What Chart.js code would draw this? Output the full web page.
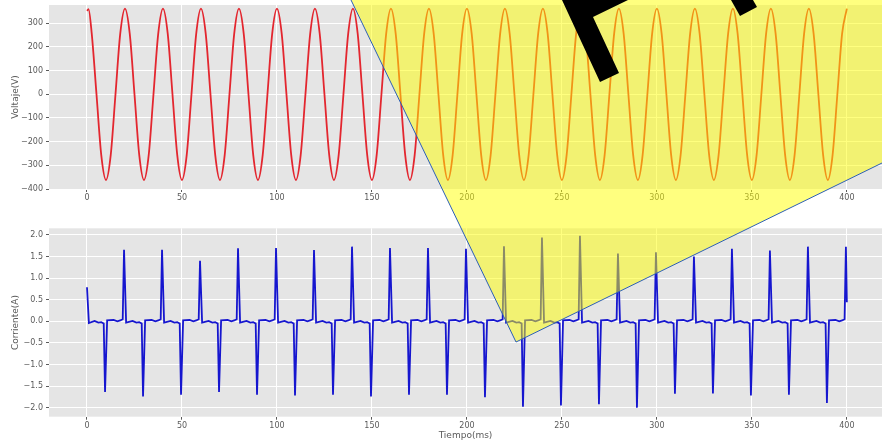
<!DOCTYPE html>
<html>
<head>
<meta charset="utf-8">
<script src="https://cdn.jsdelivr.net/npm/chart.js@4/dist/chart.umd.min.js"></script>
<style>
  html, body { margin: 0; padding: 0; background: #fff; overflow: hidden; }
  #wrap { position: relative; width: 882px; height: 445px; }
  canvas { position: absolute; left: 0; }
  #voltaje { top: 0; width: 882px; height: 215px; }
  #corriente { top: 215px; width: 882px; height: 230px; }
  #marca { top: 0; width: 882px; height: 445px; pointer-events: none; }
</style>
</head>
<body>
<div id="wrap">
  <canvas id="voltaje" width="882" height="215"></canvas>
  <canvas id="corriente" width="882" height="230"></canvas>
  <canvas id="marca" width="882" height="445"></canvas>
</div>
<script>
// Voltaje (V), muestras cada 2.5 ms
const tiempoV = [
  0, 0.8, 2.5, 5, 7.5, 10, 12.5, 15, 17.5,
  20, 22.5, 25, 27.5, 30, 32.5, 35, 37.5,
  40, 42.5, 45, 47.5, 50, 52.5, 55, 57.5,
  60, 62.5, 65, 67.5, 70, 72.5, 75, 77.5,
  80, 82.5, 85, 87.5, 90, 92.5, 95, 97.5,
  100, 102.5, 105, 107.5, 110, 112.5, 115, 117.5,
  120, 122.5, 125, 127.5, 130, 132.5, 135, 137.5,
  140, 142.5, 145, 147.5, 150, 152.5, 155, 157.5,
  160, 162.5, 165, 167.5, 170, 172.5, 175, 177.5,
  180, 182.5, 185, 187.5, 190, 192.5, 195, 197.5,
  200, 202.5, 205, 207.5, 210, 212.5, 215, 217.5,
  220, 222.5, 225, 227.5, 230, 232.5, 235, 237.5,
  240, 242.5, 245, 247.5, 250, 252.5, 255, 257.5,
  260, 262.5, 265, 267.5, 270, 272.5, 275, 277.5,
  280, 282.5, 285, 287.5, 290, 292.5, 295, 297.5,
  300, 302.5, 305, 307.5, 310, 312.5, 315, 317.5,
  320, 322.5, 325, 327.5, 330, 332.5, 335, 337.5,
  340, 342.5, 345, 347.5, 350, 352.5, 355, 357.5,
  360, 362.5, 365, 367.5, 370, 372.5, 375, 377.5,
  380, 382.5, 385, 387.5, 390, 392.5, 395, 397.5,
  400
];
const voltaje = [
  352, 360, 256, 0, -256, -362, -256, 0, 256,
  362, 256, 0, -256, -362, -256, 0, 256,
  362, 256, 0, -256, -362, -256, 0, 256,
  362, 256, 0, -256, -362, -256, 0, 256,
  362, 256, 0, -256, -362, -256, 0, 256,
  362, 256, 0, -256, -362, -256, 0, 256,
  362, 256, 0, -256, -362, -256, 0, 256,
  362, 256, 0, -256, -362, -256, 0, 256,
  362, 256, 0, -256, -362, -256, 0, 256,
  362, 256, 0, -256, -362, -256, 0, 256,
  362, 256, 0, -256, -362, -256, 0, 256,
  362, 256, 0, -256, -362, -256, 0, 256,
  362, 256, 0, -256, -362, -256, 0, 256,
  362, 256, 0, -256, -362, -256, 0, 256,
  362, 256, 0, -256, -362, -256, 0, 256,
  362, 256, 0, -256, -362, -256, 0, 256,
  362, 256, 0, -256, -362, -256, 0, 256,
  362, 256, 0, -256, -362, -256, 0, 256,
  362, 256, 0, -256, -362, -256, 0, 256,
  362, 256, 0, -256, -362, -256, 0, 256,
  362
];

// Corriente (A): picos negativos a ~9.5 ms y positivos a ~19.5 ms de cada ciclo
const tiempoI = [
  0, 1, 4, 6, 7.5, 8.8, 9.5, 10.6, 14, 16, 17.5, 18.8, 19.5,
  20.6, 24, 26, 27.5, 28.8, 29.5, 30.6, 34, 36, 37.5, 38.8, 39.5,
  40.6, 44, 46, 47.5, 48.8, 49.5, 50.6, 54, 56, 57.5, 58.8, 59.5,
  60.6, 64, 66, 67.5, 68.8, 69.5, 70.6, 74, 76, 77.5, 78.8, 79.5,
  80.6, 84, 86, 87.5, 88.8, 89.5, 90.6, 94, 96, 97.5, 98.8, 99.5,
  100.6, 104, 106, 107.5, 108.8, 109.5, 110.6, 114, 116, 117.5, 118.8, 119.5,
  120.6, 124, 126, 127.5, 128.8, 129.5, 130.6, 134, 136, 137.5, 138.8, 139.5,
  140.6, 144, 146, 147.5, 148.8, 149.5, 150.6, 154, 156, 157.5, 158.8, 159.5,
  160.6, 164, 166, 167.5, 168.8, 169.5, 170.6, 174, 176, 177.5, 178.8, 179.5,
  180.6, 184, 186, 187.5, 188.8, 189.5, 190.6, 194, 196, 197.5, 198.8, 199.5,
  200.6, 204, 206, 207.5, 208.8, 209.5, 210.6, 214, 216, 217.5, 218.8, 219.5,
  220.6, 224, 226, 227.5, 228.8, 229.5, 230.6, 234, 236, 237.5, 238.8, 239.5,
  240.6, 244, 246, 247.5, 248.8, 249.5, 250.6, 254, 256, 257.5, 258.8, 259.5,
  260.6, 264, 266, 267.5, 268.8, 269.5, 270.6, 274, 276, 277.5, 278.8, 279.5,
  280.6, 284, 286, 287.5, 288.8, 289.5, 290.6, 294, 296, 297.5, 298.8, 299.5,
  300.6, 304, 306, 307.5, 308.8, 309.5, 310.6, 314, 316, 317.5, 318.8, 319.5,
  320.6, 324, 326, 327.5, 328.8, 329.5, 330.6, 334, 336, 337.5, 338.8, 339.5,
  340.6, 344, 346, 347.5, 348.8, 349.5, 350.6, 354, 356, 357.5, 358.8, 359.5,
  360.6, 364, 366, 367.5, 368.8, 369.5, 370.6, 374, 376, 377.5, 378.8, 379.5,
  380.6, 384, 386, 387.5, 388.8, 389.5, 390.6, 394, 396, 397.5, 398.8, 399.5,
  400
];
const corriente = [
  0.79, -0.04, 0.01, -0.03, -0.02, -0.05, -1.64, 0.02, 0.03, 0.00, 0.02, 0.05, 1.66,
  -0.03, 0.01, -0.03, -0.02, -0.05, -1.74, 0.02, 0.03, 0.00, 0.02, 0.05, 1.66,
  -0.03, 0.01, -0.03, -0.02, -0.05, -1.70, 0.02, 0.03, 0.00, 0.02, 0.05, 1.40,
  -0.03, 0.01, -0.03, -0.02, -0.05, -1.64, 0.02, 0.03, 0.00, 0.02, 0.05, 1.69,
  -0.03, 0.01, -0.03, -0.02, -0.05, -1.70, 0.02, 0.03, 0.00, 0.02, 0.05, 1.70,
  -0.03, 0.01, -0.03, -0.02, -0.05, -1.72, 0.02, 0.03, 0.00, 0.02, 0.05, 1.65,
  -0.03, 0.01, -0.03, -0.02, -0.05, -1.70, 0.02, 0.03, 0.00, 0.02, 0.05, 1.73,
  -0.03, 0.01, -0.03, -0.02, -0.05, -1.74, 0.02, 0.03, 0.00, 0.02, 0.05, 1.70,
  -0.03, 0.01, -0.03, -0.02, -0.05, -1.70, 0.02, 0.03, 0.00, 0.02, 0.05, 1.70,
  -0.03, 0.01, -0.03, -0.02, -0.05, -1.70, 0.02, 0.03, 0.00, 0.02, 0.05, 1.68,
  -0.03, 0.01, -0.03, -0.02, -0.05, -1.76, 0.02, 0.03, 0.00, 0.02, 0.05, 1.74,
  -0.03, 0.01, -0.03, -0.02, -0.05, -1.98, 0.02, 0.03, 0.00, 0.02, 0.05, 1.94,
  -0.03, 0.01, -0.03, -0.02, -0.05, -1.95, 0.02, 0.03, 0.00, 0.02, 0.05, 1.98,
  -0.03, 0.01, -0.03, -0.02, -0.05, -1.92, 0.02, 0.03, 0.00, 0.02, 0.05, 1.57,
  -0.03, 0.01, -0.03, -0.02, -0.05, -2.00, 0.02, 0.03, 0.00, 0.02, 0.05, 1.60,
  -0.03, 0.01, -0.03, -0.02, -0.05, -1.68, 0.02, 0.03, 0.00, 0.02, 0.05, 1.50,
  -0.03, 0.01, -0.03, -0.02, -0.05, -1.67, 0.02, 0.03, 0.00, 0.02, 0.05, 1.68,
  -0.03, 0.01, -0.03, -0.02, -0.05, -1.72, 0.02, 0.03, 0.00, 0.02, 0.05, 1.64,
  -0.03, 0.01, -0.03, -0.02, -0.05, -1.70, 0.02, 0.03, 0.00, 0.02, 0.05, 1.73,
  -0.03, 0.01, -0.03, -0.02, -0.05, -1.89, 0.02, 0.03, 0.00, 0.02, 0.05, 1.73,
  0.44
];

const ticksTiempo = [0, 50, 100, 150, 200, 250, 300, 350, 400];
const ticksVoltaje = [-400, -300, -200, -100, 0, 100, 200, 300];
const ticksCorriente = [-2, -1.5, -1, -0.5, 0, 0.5, 1, 1.5, 2];

const GRIS = '#5a5a5a';
const fuenteTick = { family: 'DejaVu Sans', size: 8 };
const fuenteTitulo = { family: 'DejaVu Sans', size: 9 };
const menos = s => String(s).replace('-', '\u2212');

// fondo gris estilo ggplot
const fondo = {
  id: 'fondo',
  beforeDraw(chart) {
    const { ctx, chartArea: a } = chart;
    ctx.save();
    ctx.fillStyle = '#E5E5E5';
    ctx.fillRect(a.left, a.top, a.right - a.left, a.bottom - a.top);
    ctx.restore();
  }
};

function ejeX(alto, titulo) {
  return {
    type: 'linear', min: -20, max: 418.5,
    afterBuildTicks: s => { s.ticks = ticksTiempo.map(v => ({ value: v })); },
    afterFit: s => { s.height = alto; s.paddingLeft = 0; s.paddingRight = 0; },
    grid: { color: '#fff', lineWidth: 1, tickColor: GRIS, tickLength: 3 },
    border: { display: false },
    ticks: { color: GRIS, font: fuenteTick, padding: 1, maxRotation: 0, autoSkip: false,
             callback: v => String(v) },
    title: titulo
      ? { display: true, text: titulo, color: GRIS, font: fuenteTitulo, padding: { top: 0, bottom: 3.5 } }
      : { display: false }
  };
}

function ejeY(min, max, marcas, titulo, fmt) {
  return {
    type: 'linear', min: min, max: max,
    afterBuildTicks: s => { s.ticks = marcas.map(v => ({ value: v })); },
    afterFit: s => { s.width = 49; s.paddingTop = 0; s.paddingBottom = 0; },
    grid: { color: '#fff', lineWidth: 1, tickColor: GRIS, tickLength: 3 },
    border: { display: false },
    ticks: { color: GRIS, font: fuenteTick, padding: 3, autoSkip: false, callback: fmt },
    title: { display: true, text: titulo, color: GRIS, font: fuenteTitulo, padding: { top: 10.5, bottom: 0 } }
  };
}

const comunes = {
  responsive: false,
  animation: false,
  devicePixelRatio: 1,
  plugins: { legend: { display: false }, tooltip: { enabled: false } },
  elements: { point: { radius: 0 } }
};

new Chart(document.getElementById('voltaje'), {
  type: 'line',
  data: {
    datasets: [{
      data: tiempoV.map((t, i) => ({ x: t, y: voltaje[i] })),
      borderColor: '#e3262f',
      borderWidth: 1.8,
      cubicInterpolationMode: 'monotone',
      fill: false
    }]
  },
  options: Object.assign({}, comunes, {
    layout: { padding: { top: 5, right: 0, bottom: 0, left: 0 } },
    scales: {
      x: ejeX(26, null),
      y: ejeY(-400, 377, ticksVoltaje, 'Voltaje(V)', v => menos(v))
    }
  }),
  plugins: [fondo]
});

new Chart(document.getElementById('corriente'), {
  type: 'line',
  data: {
    datasets: [{
      data: tiempoI.map((t, i) => ({ x: t, y: corriente[i] })),
      borderColor: '#1616cf',
      borderWidth: 1.8,
      tension: 0,
      fill: false
    }]
  },
  options: Object.assign({}, comunes, {
    layout: { padding: { top: 13.3, right: 0, bottom: 0, left: 0 } },
    scales: {
      x: ejeX(28.3, 'Tiempo(ms)'),
      y: ejeY(-2.21, 2.155, ticksCorriente, 'Corriente(A)', v => menos(Number(v).toFixed(1)))
    }
  }),
  plugins: [fondo]
});

// recuadro amarillo superpuesto y trazos negros
const m = document.getElementById('marca').getContext('2d');
m.fillStyle = 'rgba(255,255,0,0.5)';
m.beginPath();
m.moveTo(351, 0); m.lineTo(516, 342); m.lineTo(882, 163); m.lineTo(882, 0);
m.closePath();
m.fill();
m.strokeStyle = '#2d5fb5';
m.lineWidth = 1;
m.beginPath();
m.moveTo(351, 0); m.lineTo(516, 342); m.lineTo(882, 163);
m.stroke();
m.fillStyle = '#000';
m.beginPath();
m.moveTo(562, 0); m.lineTo(600, 82); m.lineTo(619, 73); m.lineTo(593, 17); m.lineTo(628, 0);
m.closePath();
m.fill();
m.beginPath();
m.moveTo(731, 0); m.lineTo(740, 16); m.lineTo(757, 7); m.lineTo(753, 0);
m.closePath();
m.fill();
</script>
</body>
</html>
